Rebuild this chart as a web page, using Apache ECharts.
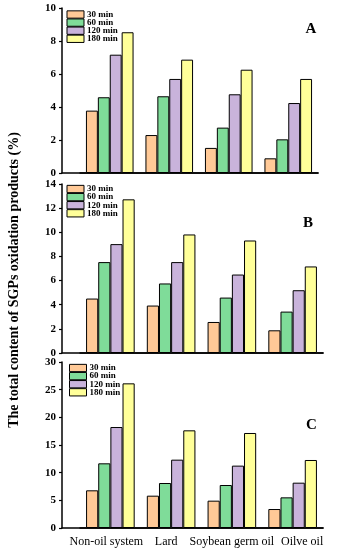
<!DOCTYPE html>
<html>
<head>
<meta charset="utf-8">
<script src="https://cdn.jsdelivr.net/npm/echarts@6/dist/echarts.min.js"></script>
<style>html,body{margin:0;padding:0;background:#fff}#c{width:344px;height:550px}</style>
</head>
<body>
<div id="c"></div>
<script>
const categories = ['Non-oil system', 'Lard', 'Soybean germ oil', 'Oilve oil'];
const seriesNames = ['30 min', '60 min', '120 min', '180 min'];
const colors = ['#FFC997', '#7FDC99', '#C9B3DB', '#FFFF99'];

const panelA_30 = [3.78, 2.30, 1.52, 0.89];
const panelA_60 = [4.59, 4.65, 2.75, 2.04];
const panelA_120 = [7.17, 5.70, 4.77, 4.24];
const panelA_180 = [8.53, 6.87, 6.26, 5.70];

const panelB_30 = [4.51, 3.93, 2.57, 1.88];
const panelB_60 = [7.53, 5.76, 4.59, 3.43];
const panelB_120 = [9.02, 7.53, 6.50, 5.20];
const panelB_180 = [12.73, 9.82, 9.32, 7.17];

const panelC_30 = [6.81, 5.84, 4.94, 3.43];
const panelC_60 = [11.69, 8.13, 7.77, 5.54];
const panelC_120 = [18.25, 12.35, 11.27, 8.19];
const panelC_180 = [26.14, 17.65, 17.17, 12.29];

const ticksA = [0, 2, 4, 6, 8, 10];
const ticksB = [0, 2, 4, 6, 8, 10, 12, 14];
const ticksC = [0, 5, 10, 15, 20, 25, 30];

const yTitle = 'The total content of SGPs oxidation products (%)';
const panelLetters = ['A', 'B', 'C'];

const SERIF = '"Liberation Serif", "DejaVu Serif", serif';

const panels = [
  {data: [panelA_30, panelA_60, panelA_120, panelA_180], ticks: ticksA, top: 8, height: 165, right: 26, legendLeft: 66.5, legendTop: 10, showLabels: false},
  {data: [panelB_30, panelB_60, panelB_120, panelB_180], ticks: ticksB, top: 184, height: 169, right: 21, legendLeft: 66.5, legendTop: 184.5, showLabels: false},
  {data: [panelC_30, panelC_60, panelC_120, panelC_180], ticks: ticksC, top: 362, height: 166, right: 21, legendLeft: 69, legendTop: 363.5, showLabels: true}
];

// per-label horizontal nudges (padding) so the labels sit as in the source figure
const labelRich = {
  l0: {padding: [0, 8, 0, 0]},
  l1: {padding: [0, 10, 0, 0]},
  l2: {padding: [0, 0, 0, 0]},
  l3: {padding: [0, 0, 0, 19]}
};

const grid = [], xAxis = [], yAxis = [], series = [], legend = [];
panels.forEach((p, i) => {
  grid.push({left: 80, right: p.right, top: p.top, height: p.height});
  grid.push({left: 62, right: p.right, top: p.top, height: p.height});
  const gMain = 2 * i, gHelp = 2 * i + 1;
  const rich = {};
  Object.keys(labelRich).forEach(k => {
    rich[k] = Object.assign({fontFamily: SERIF, fontSize: 12, color: '#000'}, labelRich[k]);
  });
  xAxis.push({
    type: 'category', gridIndex: gMain, data: categories,
    axisLine: {show: true, lineStyle: {color: '#000', width: 1.5}},
    axisTick: {show: false},
    axisLabel: {show: p.showLabels, interval: 0, color: '#000', fontFamily: SERIF, fontSize: 12, margin: 8,
      formatter: (v, idx) => '{l' + idx + '|' + v + '}', rich}
  });
  xAxis.push({
    type: 'value', gridIndex: gHelp, min: 0, max: 1,
    axisLine: {show: true, lineStyle: {color: '#000', width: 1.5}},
    axisTick: {show: false}, axisLabel: {show: false}, splitLine: {show: false}
  });
  const t = p.ticks;
  yAxis.push({
    type: 'value', gridIndex: gMain, min: t[0], max: t[t.length - 1], interval: t[1] - t[0],
    offset: 18,
    axisLine: {show: true, lineStyle: {color: '#000', width: 1.5}},
    axisTick: {show: true, inside: false, length: 3, lineStyle: {color: '#000', width: 1.2}},
    axisLabel: {color: '#000', fontFamily: SERIF, fontWeight: 'bold', fontSize: 11, margin: 6},
    splitLine: {show: false}
  });
  yAxis.push({type: 'value', gridIndex: gHelp, min: 0, max: 1, show: false});
  p.data.forEach((arr, k) => {
    series.push({
      type: 'bar', name: seriesNames[k], xAxisIndex: 2 * i, yAxisIndex: 2 * i,
      data: arr, barGap: '0%', barCategoryGap: '20%',
      itemStyle: {color: colors[k], borderColor: '#000', borderWidth: 1},
      emphasis: {disabled: true}, animation: false
    });
  });
  legend.push({
    data: seriesNames, orient: 'vertical', left: p.legendLeft, top: p.legendTop,
    itemWidth: 17, itemHeight: 7.3, itemGap: -0.9, padding: 0,
    icon: 'rect',
    itemStyle: {borderColor: '#000', borderWidth: 1},
    textStyle: {fontFamily: SERIF, fontWeight: 'bold', fontSize: 9, color: '#000', lineHeight: 7, height: 7, padding: [0, 0, 0, -2]},
    selectedMode: false
  });
});

const letterPos = [[311, 29.5], [308, 223.5], [311.5, 425]];
const graphic = [
  {type: 'text', x: 14, y: 280, rotation: Math.PI / 2,
   style: {text: yTitle, fontFamily: SERIF, fontWeight: 'bold', fontSize: 14, fill: '#000', align: 'center', verticalAlign: 'middle'}}
];
panelLetters.forEach((L, i) => {
  graphic.push({type: 'text', x: letterPos[i][0], y: letterPos[i][1],
    style: {text: L, fontFamily: SERIF, fontWeight: 'bold', fontSize: 15, fill: '#000', align: 'center', verticalAlign: 'middle'}});
});

const chart = echarts.init(document.getElementById('c'), null, {renderer: 'canvas'});
chart.setOption({
  animation: false,
  backgroundColor: '#fff',
  grid, xAxis, yAxis, series, legend, graphic
});
</script>
</body>
</html>
